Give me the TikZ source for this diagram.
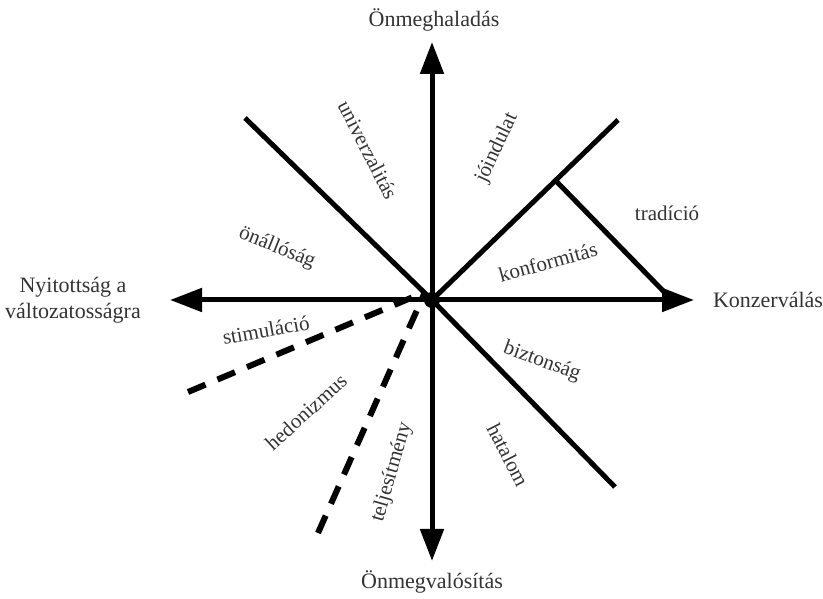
\documentclass[tikz,border=0pt]{standalone}
\usepackage{fontspec}
\setmainfont{Liberation Serif}
\usetikzlibrary{arrows.meta}
\begin{document}
\begin{tikzpicture}[x=1pt,y=1pt,
  axis/.style={line width=5pt,-{Triangle[length=32pt,width=23pt]}},
  sline/.style={line width=5pt},
  dline/.style={line width=6pt,dash pattern=on 19pt off 13pt},
  lbl/.style={text=black!80,font=\fontsize{21}{25}\selectfont,inner sep=1pt},
  axlbl/.style={text=black!80,font=\fontsize{22}{26}\selectfont,inner sep=1pt,align=center}]
\useasboundingbox (0,0) rectangle (823,599);
\coordinate (C) at (432,299);
\coordinate (top) at (432,557);
\coordinate (bot) at (432,38);
\coordinate (lft) at (170,299);
\coordinate (rgt) at (694,299);
\coordinate (ul) at (245,481);
\coordinate (ur) at (618,479);
\coordinate (lr) at (615,112);
\coordinate (t1) at (557,417);
\coordinate (t2) at (672,299);
\coordinate (d0) at (425,307);
\coordinate (d1) at (188,207);
\coordinate (d2) at (318,66);
\draw[axis] (C) -- (top);
\draw[axis] (C) -- (bot);
\draw[axis] (C) -- (lft);
\draw[axis] (C) -- (rgt);
\draw[sline] (C) -- (ul);
\draw[sline] (C) -- (ur);
\draw[sline] (C) -- (lr);
\draw[sline] (t1) -- (t2);
\fill (C) circle (8pt);
\draw[dline] (d1) -- (d0);
\draw[dline] (d2) -- (d0);
\node[axlbl] (n1) at (434,579) {Önmeghaladás};
\node[axlbl] (n2) at (432,17) {Önmegvalósítás};
\node[axlbl] (n3) at (73,299) {Nyitottság a\\változatosságra};
\node[axlbl] (n4) at (768,299) {Konzerválás};
\node[lbl,rotate=-63] (v1) at (368,449) {univerzalitás};
\node[lbl,rotate=65] (v2) at (497,451) {jóindulat};
\node[lbl] (v3) at (667,386) {tradíció};
\node[lbl,rotate=15.5] (v4) at (548,337) {konformitás};
\node[lbl,rotate=-22] (v5) at (277,351) {önállóság};
\node[lbl,rotate=10] (v6) at (266,269) {stimuláció};
\node[lbl,rotate=-20] (v7) at (542,237) {biztonság};
\node[lbl,rotate=42] (v8) at (306,187) {hedonizmus};
\node[lbl,rotate=74] (v9) at (392,127) {teljesítmény};
\node[lbl,rotate=-63] (v10) at (508,144) {hatalom};
\end{tikzpicture}
\end{document}
